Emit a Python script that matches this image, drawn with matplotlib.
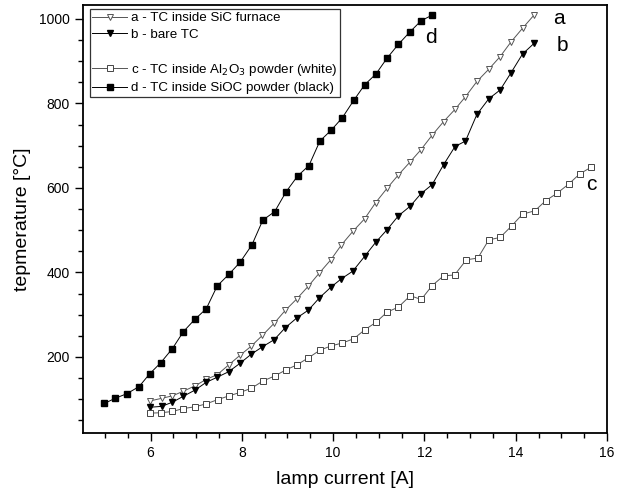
import matplotlib
matplotlib.use("Agg")
import matplotlib.pyplot as plt
from matplotlib.ticker import MultipleLocator
from matplotlib.lines import Line2D

plt.rcParams['font.family'] = ['Liberation Sans', 'DejaVu Sans']

# d - TC inside SiOC powder (black)
d_x = [4.99, 5.22, 5.48, 5.75, 5.98, 6.22, 6.48, 6.72, 6.97, 7.22,
       7.46, 7.72, 7.96, 8.22, 8.46, 8.72, 8.97, 9.22, 9.47, 9.71,
       9.96, 10.2, 10.45, 10.69, 10.94, 11.18, 11.43, 11.68, 11.93, 12.17]
d_y = [90, 102, 113, 130, 160, 186, 220, 260, 289, 314,
       368, 396, 424, 465, 524, 544, 591, 628, 653, 711,
       737, 766, 807, 844, 870, 907, 940, 969, 996, 1009]

# a - TC inside SiC furnace, b - bare TC (same currents)
ab_x = [5.99, 6.24, 6.48, 6.72, 6.98, 7.22, 7.46, 7.71, 7.96, 8.2,
        8.45, 8.71, 8.95, 9.2, 9.46, 9.7, 9.95, 10.18, 10.43, 10.69,
        10.93, 11.18, 11.43, 11.69, 11.92, 12.17, 12.42, 12.67, 12.9, 13.15,
        13.41, 13.66, 13.9, 14.15, 14.4]
a_y = [96, 102, 108, 119, 132, 147, 158, 181, 204, 225,
       251, 280, 310, 337, 368, 399, 430, 465, 497, 527,
       565, 599, 631, 662, 690, 725, 757, 786, 816, 852,
       881, 911, 946, 978, 1009]
b_y = [81, 83, 93, 107, 122, 140, 152, 165, 185, 206,
       224, 241, 269, 292, 311, 340, 365, 385, 403, 438,
       471, 501, 534, 557, 586, 608, 655, 698, 711, 774,
       811, 832, 873, 917, 942]

# c - TC inside Al2O3 powder (white)
c_x = [5.98, 6.23, 6.48, 6.72, 6.97, 7.22, 7.47, 7.72, 7.96, 8.21,
       8.46, 8.72, 8.96, 9.2, 9.46, 9.71, 9.95, 10.2, 10.45, 10.69,
       10.94, 11.18, 11.43, 11.69, 11.93, 12.17, 12.42, 12.66, 12.92, 13.17,
       13.41, 13.66, 13.91, 14.15, 14.42, 14.66, 14.9, 15.16, 15.4, 15.65]
c_y = [67, 68, 71, 78, 82, 89, 99, 108, 116, 126,
       143, 155, 169, 181, 198, 216, 226, 233, 243, 264,
       282, 306, 318, 345, 336, 369, 392, 394, 430, 434,
       477, 483, 510, 538, 546, 570, 587, 609, 633, 649]

labels = ["a - TC inside SiC furnace", "b - bare TC",
          "c - TC inside Al$_2$O$_3$ powder (white)",
          "d - TC inside SiOC powder (black)"]

fig = plt.figure(figsize=(6.26, 4.91), dpi=100)
ax = fig.add_axes([0.1326, 0.1181, 0.837, 0.8717])

la, = ax.plot(ab_x, a_y, color='#555555', lw=0.7, marker='v', ms=4.8,
              mfc='white', mec='#555555', mew=0.7)
lb, = ax.plot(ab_x, b_y, color='black', lw=0.7, marker='v', ms=4.8,
              mfc='black', mec='black')
lc, = ax.plot(c_x, c_y, color='#555555', lw=0.7, marker='s', ms=3.8,
              mfc='white', mec='#444444', mew=0.7)
ld, = ax.plot(d_x, d_y, color='black', lw=0.7, marker='s', ms=4.0,
              mfc='black', mec='black')

blank = Line2D([], [], color='none')
leg = ax.legend([la, lb, blank, lc, ld],
                [labels[0], labels[1], "", labels[2], labels[3]],
                loc='upper left', bbox_to_anchor=(0.013, 0.99), fontsize=9.6,
                frameon=True, fancybox=False, edgecolor='black',
                handlelength=2.6, handletextpad=0.3, borderpad=0.2,
                labelspacing=0.32, borderaxespad=0.0)
leg.get_frame().set_linewidth(0.9)

ax.text(14.83, 1002, "a", fontsize=15, va='center', ha='left')
ax.text(14.9, 936, "b", fontsize=15, va='center', ha='left')
ax.text(15.55, 607, "c", fontsize=15, va='center', ha='left')
ax.text(12.02, 957, "d", fontsize=15, va='center', ha='left')

ax.set_xlim(4.52, 16)
ax.set_ylim(20, 1033)
ax.xaxis.set_major_locator(MultipleLocator(2))
ax.xaxis.set_minor_locator(MultipleLocator(0.5))
ax.yaxis.set_major_locator(MultipleLocator(200))
ax.yaxis.set_minor_locator(MultipleLocator(50))
ax.tick_params(which='both', direction='out', top=False, right=False,
               labelsize=10, width=1.0)
ax.tick_params(which='major', length=6)
ax.tick_params(which='minor', length=3.5)
for s in ax.spines.values():
    s.set_linewidth(1.3)

ax.set_xlabel("lamp current [A]", fontsize=14, labelpad=8)
ax.set_ylabel("tepmerature [°C]", fontsize=14, labelpad=6)

fig.savefig("out.png", dpi=100)
